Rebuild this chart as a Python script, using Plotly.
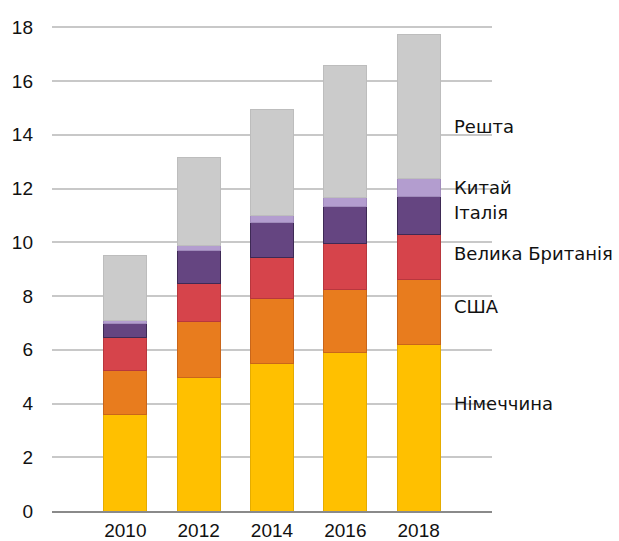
import plotly.graph_objects as go

# Years on the x axis
years = ["2010", "2012", "2014", "2016", "2018"]

# Stacked segment values per country
germany = [3.60, 4.97, 5.48, 5.89, 6.19]
usa = [1.63, 2.09, 2.42, 2.36, 2.41]
uk = [1.22, 1.39, 1.52, 1.71, 1.68]
italy = [0.52, 1.26, 1.30, 1.36, 1.42]
china = [0.12, 0.16, 0.29, 0.35, 0.67]
rest = [2.41, 3.27, 3.94, 4.92, 5.37]

series_names = ["Німеччина", "США", "Велика Британія", "Італія", "Китай", "Решта"]
series_values = [germany, usa, uk, italy, china, rest]
fill_colors = ["#FFC000", "#E87C1E", "#D6444B", "#654581", "#B39DCF", "#CBCBCB"]
edge_colors = ["#E5AC00", "#C9661A", "#B8373D", "#3E2A55", "#A08BBB", "#BDBDBD"]

# Right-hand label positions (value units)
label_y = [4.0, 7.6, 9.6, 11.1, 12.05, 14.3]

fig = go.Figure()
for name, vals, fc, ec in zip(series_names, series_values, fill_colors, edge_colors):
    fig.add_trace(go.Bar(
        x=years, y=vals, name=name,
        marker=dict(color=fc, line=dict(color=ec, width=1)),
        showlegend=False,
    ))

for name, ly in zip(series_names, label_y):
    fig.add_annotation(
        x=4.46, y=ly, xref="x", yref="y", text=name, showarrow=False,
        xanchor="left", yanchor="middle",
        font=dict(family="DejaVu Sans", size=18, color="#111111"),
    )

fig.update_layout(
    barmode="stack",
    bargap=0.41,
    width=619, height=541,
    margin=dict(l=52, r=127, t=26, b=30),
    paper_bgcolor="white", plot_bgcolor="white",
    font=dict(family="Liberation Sans", size=19, color="#111111"),
)
fig.update_xaxes(
    type="category", range=[-1, 5], automargin=False,
    showgrid=False, showline=True, linecolor="#8a8a8a", linewidth=2,
    ticks="", ticklabelstandoff=1,
    tickfont=dict(family="Liberation Sans", size=19, color="#111111"),
)
fig.update_yaxes(
    range=[0, 18.05], dtick=2, tick0=0, automargin=False,
    showgrid=True, gridcolor="#c8c8c8", gridwidth=1.5,
    zeroline=False, showline=False, ticks="",
    ticklabelstandoff=18,
    tickfont=dict(family="Liberation Sans", size=19, color="#111111"),
)

fig.write_html("out.html")
